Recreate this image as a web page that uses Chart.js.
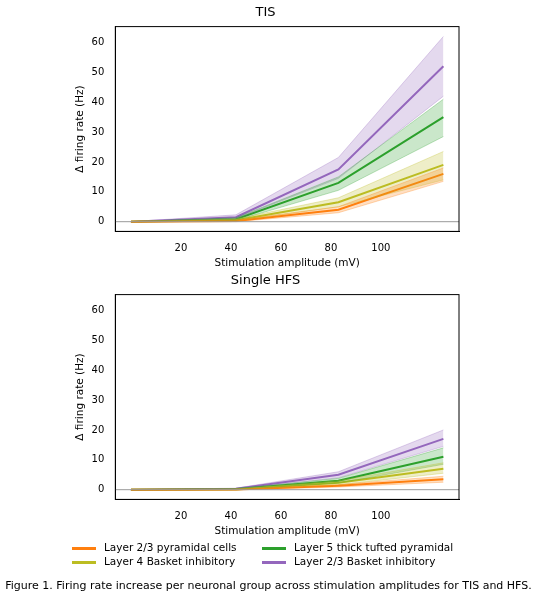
<!DOCTYPE html>
<html><head><meta charset="utf-8">
<script src="https://cdn.jsdelivr.net/npm/chart.js@4"></script>
<style>
body{margin:0;width:537px;height:600px;background:#fff;font-family:"DejaVu Sans",sans-serif;position:relative}
.c{position:absolute;left:0;width:537px;height:270px}
#legend{position:absolute;left:72px;top:541px;font-size:10.5px;display:grid;grid-template-columns:190px 210px;row-gap:2px}
#legend span{display:inline-block;width:24px;height:3px;vertical-align:middle;margin-right:8px}
#cap{position:absolute;left:0;width:537px;top:579px;text-align:center;font-size:11px}
</style></head><body>
<div class="c" style="top:0"><canvas id="tis"></canvas></div>
<div class="c" style="top:268px"><canvas id="hfs"></canvas></div>
<div id="legend">
<div><span style="background:#ff7f0e"></span>Layer 2/3 pyramidal cells</div>
<div><span style="background:#2ca02c"></span>Layer 5 thick tufted pyramidal</div>
<div><span style="background:#bcbd22"></span>Layer 4 Basket inhibitory</div>
<div><span style="background:#9467bd"></span>Layer 2/3 Basket inhibitory</div>
</div>
<div id="cap">Figure 1. Firing rate increase per neuronal group across stimulation amplitudes for TIS and HFS.</div>
<script>
const amps = [0, 42, 83, 125];
const groups = ['Layer 2/3 pyramidal cells','Layer 4 Basket inhibitory','Layer 5 thick tufted pyramidal','Layer 2/3 Basket inhibitory'];
const colors = ['#ff7f0e','#bcbd22','#2ca02c','#9467bd'];

const tisMean = [[0,0.2,4,16],[0,0.5,6.5,19],[0,0.8,13,35],[0,1.5,17.5,52]];
const tisLow  = [[0,0,3,13.5],[0,0.2,5,14],[0,0.4,10.5,28.5],[0,1,14.5,42]];
const tisHigh = [[0,0.5,5,18],[0,0.9,8,23.5],[0,1.3,15,41],[0,2.3,21.5,62]];

const hfsMean = [[0,0.05,1.3,3.5],[0,0.1,2.3,7],[0,0.2,3,11],[0,0.3,5,17]];
const hfsLow  = [[0,0,0.9,2.5],[0,0,1.6,5.5],[0,0.1,2.2,8.5],[0,0.2,4,14.5]];
const hfsHigh = [[0,0.1,1.7,4.5],[0,0.2,3,9],[0,0.3,3.8,14],[0,0.5,6,20]];

const frame = {id:'frame', afterDraw(c){const a=c.chartArea,x=c.ctx;x.save();x.strokeStyle='#000';x.lineWidth=1;x.strokeRect(a.left,a.top,a.right-a.left,a.bottom-a.top);x.restore();}};

function pts(arr){return amps.map((a,i)=>({x:a,y:arr[i]}));}
function alpha(hex,a){const n=parseInt(hex.slice(1),16);return `rgba(${n>>16},${(n>>8)&255},${n&255},${a})`;}

function draw(id,title,mean,low,high){
  const ds=[{data:[{x:-10,y:0},{x:140,y:0}],borderColor:'#999',borderWidth:1,pointRadius:0}];
  for(let g=0;g<4;g++){
    ds.push({data:pts(high[g]),borderColor:alpha(colors[g],0.3),borderWidth:1,pointRadius:0,backgroundColor:alpha(colors[g],0.25),fill:'+1'});
    ds.push({data:pts(low[g]),borderColor:alpha(colors[g],0.3),borderWidth:1,pointRadius:0,fill:false});
  }
  for(let g=0;g<4;g++) ds.push({data:pts(mean[g]),borderColor:colors[g],borderWidth:2,pointRadius:0,fill:false});
  new Chart(document.getElementById(id),{type:'line',data:{datasets:ds},plugins:[frame],
    options:{responsive:true,maintainAspectRatio:false,animation:false,
      layout:{padding:{left:72,right:78,top:0,bottom:0}},
      plugins:{legend:{display:false},tooltip:{enabled:false},
        title:{display:true,text:title,color:'#000',font:{size:13,weight:'normal',family:'DejaVu Sans'},padding:{top:5,bottom:6}}},
      scales:{
        x:{type:'linear',min:-6.25,max:131.25,grid:{display:false,drawTicks:true},border:{color:'#000'},
          ticks:{stepSize:20,color:'#000',font:{size:10,family:'DejaVu Sans'},callback:v=>v%20===0&&v>=0&&v<=120?v:''},
          title:{display:true,text:'Stimulation amplitude (mV)',color:'#000',font:{size:10.5,family:'DejaVu Sans'},padding:0}},
        y:{min:-3.25,max:65.3,grid:{display:false},border:{color:'#000'},
          ticks:{stepSize:10,color:'#000',font:{size:10,family:'DejaVu Sans'},callback:v=>v%10===0&&v>=0?v:''},
          afterBuildTicks:ax=>{ax.ticks=[0,10,20,30,40,50,60].map(v=>({value:v}));},
          title:{display:true,text:'Δ firing rate (Hz)',color:'#000',font:{size:10.5,family:'DejaVu Sans'},padding:2}}
      }}});
}
draw('tis','TIS',tisMean,tisLow,tisHigh);
draw('hfs','Single HFS',hfsMean,hfsLow,hfsHigh);
</script></body></html>
